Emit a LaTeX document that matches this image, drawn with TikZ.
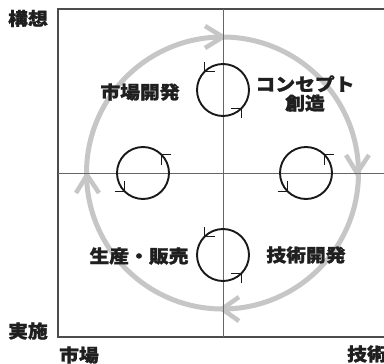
\documentclass[tikz,border=0pt]{standalone}
\usepackage{fontspec}
\usetikzlibrary{calc}
\newfontfamily\jp{Noto Sans CJK JP}[FakeStretch=1.1, BoldFeatures={FakeBold=1.3}]
\begin{document}
\begin{tikzpicture}[x=1pt,y=-1pt,
  lbl/.style={font=\jp\bfseries\fontsize{18}{20}\selectfont, text=black!88, inner sep=0pt},
  frame/.style={draw=black!70, line width=1.2pt},
  axis/.style={draw=black!60, line width=0.9pt},
  cycle/.style={draw=gray!45, line width=5pt},
  chev/.style={draw=gray!45, line width=4.5pt, line cap=butt, line join=miter},
  loop/.style={draw=black!90, line width=1.9pt},
  tick/.style={draw=black!90, line width=1.1pt}]
\useasboundingbox (0,0) rectangle (384,364);
\fill[white] (0,0) rectangle (384,364);
% big cycle
\coordinate (C) at (222.5,173);
\draw[cycle] (C) circle[radius=136];
\draw[chev] (205,26) -- (223,37) -- (205,48);
\draw[chev] (346,155) -- (357,173) -- (369,155);
\draw[chev] (239,297) -- (222,309) -- (239,321);
\draw[chev] (76,193) -- (87,175) -- (99,193);
% frame and axes
\draw[frame] (400,9) -- (58,9) -- (58,337) -- (400,337);
\coordinate (vt) at (223,9);
\coordinate (vb) at (223,337);
\coordinate (hl) at (58,173);
\coordinate (hr) at (400,173);
\draw[axis] (vt) -- (vb);
\draw[axis] (hl) -- (hr);
% small loops
\foreach \n/\cx/\cy in {t/223/90, b/223/255}{
  \draw[loop] (\cx,\cy) circle[radius=26];
  \draw[tick] ($(\cx,\cy)+(-18.4,-9.4-18.4)$) -- ++(0,9.4) -- ++(10,0);
  \draw[tick] ($(\cx,\cy)+(18.4-10,18.4)$) -- ++(10,0) -- ++(0,9.4);
}
\foreach \n/\cx/\cy in {l/143/173, r/306/173}{
  \draw[loop] (\cx,\cy) circle[radius=26];
  \draw[tick] ($(\cx,\cy)+(18.4+10,-18.4)$) -- ++(-10,0) -- ++(0,10);
  \draw[tick] ($(\cx,\cy)+(-18.4-10,18.4)$) -- ++(10,0) -- ++(0,-10);
}
% labels
\node[lbl] (kousou) at (28,18.5) {構想};
\node[lbl] (jisshi) at (28,331) {実施};
\node[lbl] (shijou) at (79,355) {市場};
\node[lbl, anchor=west] (gijutsu) at (347,354) {技術};
\node[lbl] (mkt) at (140,92) {市場開発};
\node[lbl, align=center] (concept) at (305,93.5) {コンセプト\\[-1pt]創造};
\node[lbl] (prod) at (139,256) {生産・販売};
\node[lbl] (tech) at (306,255) {技術開発};
\end{tikzpicture}
\end{document}
